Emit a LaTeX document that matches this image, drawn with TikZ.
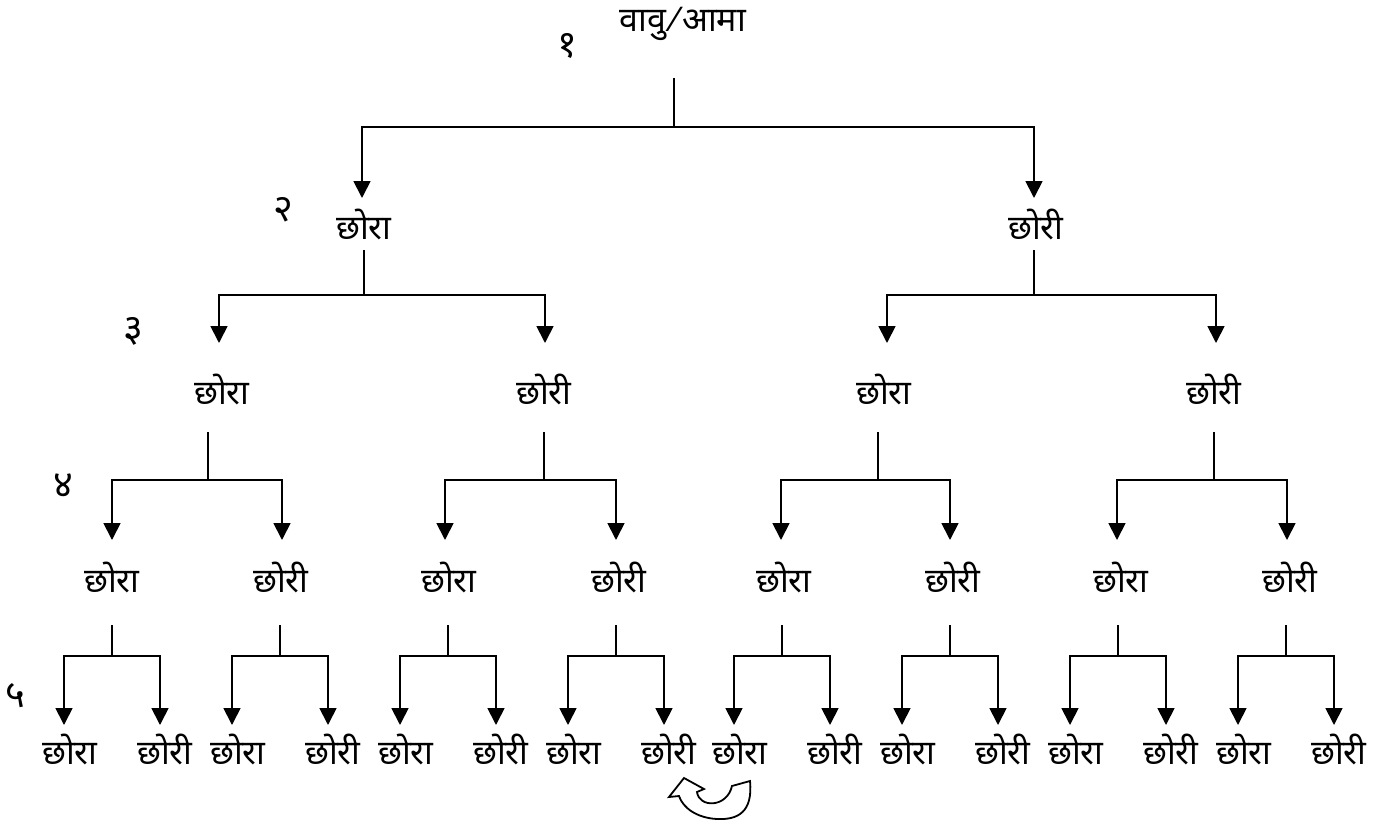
\documentclass[tikz,border=0pt]{standalone}
\usepackage{fontspec}
\newfontfamily\deva[Script=Devanagari]{Noto Sans}
\usetikzlibrary{arrows.meta}
\begin{document}
\begin{tikzpicture}[x=0.5pt,y=-0.5pt,
  lbl/.style={font=\deva\fontsize{17}{19}\selectfont, inner sep=0pt},
  num/.style={font=\deva\fontsize{19}{21}\selectfont, inner sep=0pt},
  arr/.style={-{Triangle[width=8.5pt,length=8.5pt]}, line width=0.9pt},
  stem/.style={line width=0.8pt}]
\useasboundingbox (0,0) rectangle (1389,825);
% level 1
\node[lbl] (root) at (683,24) {वावु\,⁄\,आमा};
\node[num] (k1) at (567,46) {१};
\node[num] (k2) at (283,210) {२};
\node[num] (k3) at (133,331) {३};
\node[num] (k4) at (63,486) {४};
\node[num] (k5) at (15,696) {५};
% level 2
\node[lbl] (n0) at (364,224) {छोरा};
\node[lbl] (n1) at (1036,224) {छोरी};
\coordinate (s) at (674,78); \coordinate (j) at (674,127);
\coordinate (t0) at (362,198); \coordinate (t1) at (1034,198);
\draw[stem] (s) -- (j); \draw[arr] (j) -| (t0); \draw[arr] (j) -| (t1);
% level 3
\node[lbl] (n00) at (222,389) {छोरा};
\node[lbl] (n01) at (544,389) {छोरी};
\node[lbl] (n10) at (884,389) {छोरा};
\node[lbl] (n11) at (1214,389) {छोरी};
\coordinate (s0) at (364,250); \coordinate (j0) at (364,295);
\coordinate (t00) at (219,343); \coordinate (t01) at (545,343);
\draw[stem] (s0) -- (j0); \draw[arr] (j0) -| (t00); \draw[arr] (j0) -| (t01);
\coordinate (s1) at (1034,250); \coordinate (j1) at (1034,295);
\coordinate (t10) at (887,343); \coordinate (t11) at (1216,343);
\draw[stem] (s1) -- (j1); \draw[arr] (j1) -| (t10); \draw[arr] (j1) -| (t11);
% level 4
\foreach \x/\txt [count=\i] in {112/छोरा,281/छोरी,449/छोरा,619/छोरी,784/छोरा,953/छोरी,1121/छोरा,1290/छोरी}
  {\node[lbl] (m\i) at (\x,577) {\txt};}
\foreach \sx/\la/\ra [count=\i] in {208/112/282,544/445/616,878/781/950,1214/1117/1287}{
  \coordinate (u\i) at (\sx,432); \coordinate (v\i) at (\sx,480);
  \coordinate (wa\i) at (\la,540); \coordinate (wb\i) at (\ra,540);
  \draw[stem] (u\i) -- (v\i); \draw[arr] (v\i) -| (wa\i); \draw[arr] (v\i) -| (wb\i);
}
% level 5
\foreach \x [count=\i] in {112,280,448,616,782,950,1118,1286}{
  \coordinate (p\i) at (\x,625); \coordinate (q\i) at (\x,656);
  \coordinate (la\i) at (\x-48,725); \coordinate (ra\i) at (\x+48,725);
  \node[lbl] (l\i) at (\x-42,749) {छोरा};
  \node[lbl] (r\i) at (\x+53,749) {छोरी};
  \draw[stem] (p\i) -- (q\i); \draw[arr] (q\i) -| (la\i); \draw[arr] (q\i) -| (ra\i);
}
% curved block arrow
\draw[line width=0.9pt, fill=white, line join=miter]
  (669,797) -- (684,778) -- (704,789) -- (697,792)
  .. controls (699,808) and (727,808) .. (732,786)
  -- (750,781)
  .. controls (753,812) and (738,820) .. (717,819)
  .. controls (697,818) and (683,808) .. (679,796) -- cycle;
\end{tikzpicture}
\end{document}
